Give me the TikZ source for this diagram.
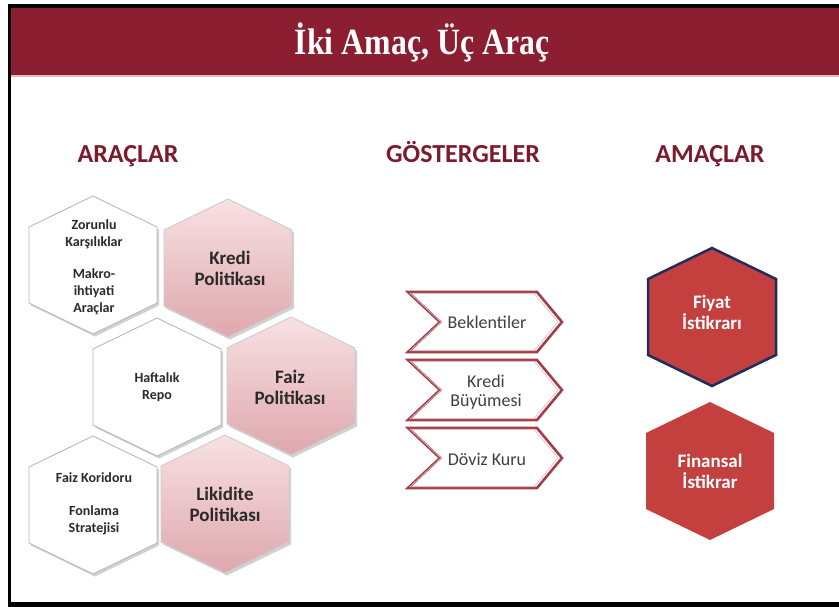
\documentclass[tikz,border=0pt]{standalone}
\usepackage{fontspec}
\setmainfont{Carlito}
\newfontfamily\ttlfont{Liberation Serif}
\definecolor{banner}{HTML}{8B1E30}
\definecolor{headred}{HTML}{7B1B2B}
\definecolor{pinktop}{HTML}{F8E1E3}
\definecolor{pinkbot}{HTML}{DEA7AD}
\definecolor{hexred}{HTML}{C4403F}
\definecolor{navy}{HTML}{1F2D5C}
\definecolor{chevline}{HTML}{A33D48}
\definecolor{txtdark}{HTML}{2A2A2A}
\tikzset{
  pics/hexa/.style={code={\path[pic actions] (-64,-38) -- (-64,38) -- (0,69) -- (64,38) -- (64,-38) -- (0,-69) -- cycle;}},
  pics/chev/.style={code={\path[pic actions] (-77,-30) -- (52,-30) -- (77,0) -- (52,30) -- (-77,30) -- (-45,0) -- cycle;}},
  hexshadow/.style={fill=black, opacity=0.18},
  whitehex/.style={fill=white, draw=gray!55, line width=0.9pt},
  pinkhex/.style={top color=pinktop, bottom color=pinkbot, draw=gray!40, line width=0.9pt},
  redhex/.style={fill=hexred},
  chevbox/.style={fill=white, draw=chevline, line width=1.3pt, line join=miter, double=white, double distance=0pt},
  chevinner/.style={draw=chevline!35, line width=0.6pt},
  heading/.style={font=\bfseries\fontsize{26}{30}\selectfont, text=headred, anchor=base},
  smalltxt/.style={font=\bfseries\fontsize{14}{17}\selectfont, text=txtdark, align=center},
  bigtxt/.style={font=\bfseries\fontsize{19}{21}\selectfont, text=txtdark, align=center},
  redtxt/.style={font=\bfseries\fontsize{19}{21}\selectfont, text=white, align=center},
  chevtxt/.style={font=\fontsize{18}{19}\selectfont, text=black!75, align=center}
}
\begin{document}
\begin{tikzpicture}[x=1pt, y=-1pt]
\useasboundingbox (0,0) rectangle (839,607);
\fill[white] (0,0) rectangle (839,607);
% frame
\fill[black] (8,4) rectangle (11,607);
\fill[black] (8,4) rectangle (839,8);
\fill[black] (8,602) rectangle (839,607);
% banner
\fill[banner] (11,8) rectangle (839,75);
\fill[banner!30] (11,75) rectangle (839,77.5);
\node[font=\ttlfont\bfseries\fontsize{37}{40}\selectfont, text=white] (title) at (422,42) {\scalebox{0.86}[1]{İki Amaç, Üç Araç}};
% headings
\node[heading] (h1) at (128,163) {ARAÇLAR};
\node[heading] (h2) at (463,163) {GÖSTERGELER};
\node[heading] (h3) at (710,163) {AMAÇLAR};
% shadows
\foreach \cx/\cy in {93/265, 228/268, 157/387, 291/386, 93/505, 225/504}
  \pic[hexshadow] at (\cx+2,\cy+2.5) {hexa};
% left hexagons
\pic[whitehex] at (93,265) {hexa};
\pic[pinkhex] at (228,268) {hexa};
\pic[whitehex] at (157,387) {hexa};
\pic[pinkhex] at (291,386) {hexa};
\pic[whitehex] at (93,505) {hexa};
\pic[pinkhex] at (225,504) {hexa};
\node[smalltxt] (zor) at (94,267) {Zorunlu\\Karşılıklar\\[15pt]Makro-\\ihtiyati\\Araçlar};
\node[bigtxt] (kredi) at (230,268) {Kredi\\Politikası};
\node[smalltxt] (haft) at (157,387) {Haftalık\\Repo};
\node[bigtxt] (faiz) at (290,387) {Faiz\\Politikası};
\node[smalltxt] (kor) at (94,504) {Faiz Koridoru\\[16pt]Fonlama\\Stratejisi};
\node[bigtxt] (lik) at (225,504) {Likidite\\Politikası};
% chevrons
\foreach \cy in {322,390,458}{
  \pic[chevbox] at (485,\cy) {chev};
  \pic[chevinner, scale=0.96] at (484,\cy) {chev};
}
\node[chevtxt] (bek) at (487,322) {Beklentiler};
\node[chevtxt] (kb) at (486,392) {Kredi\\Büyümesi};
\node[chevtxt] (dov) at (487,459) {Döviz Kuru};
% right hexagons
\pic[redhex, draw=navy, line width=2.5pt] at (712,317) {hexa};
\pic[redhex] at (710,471) {hexa};
\node[redtxt] (fiyat) at (712,312) {Fiyat\\İstikrarı};
\node[redtxt] (fin) at (710,471) {Finansal\\İstikrar};
\end{tikzpicture}
\end{document}
